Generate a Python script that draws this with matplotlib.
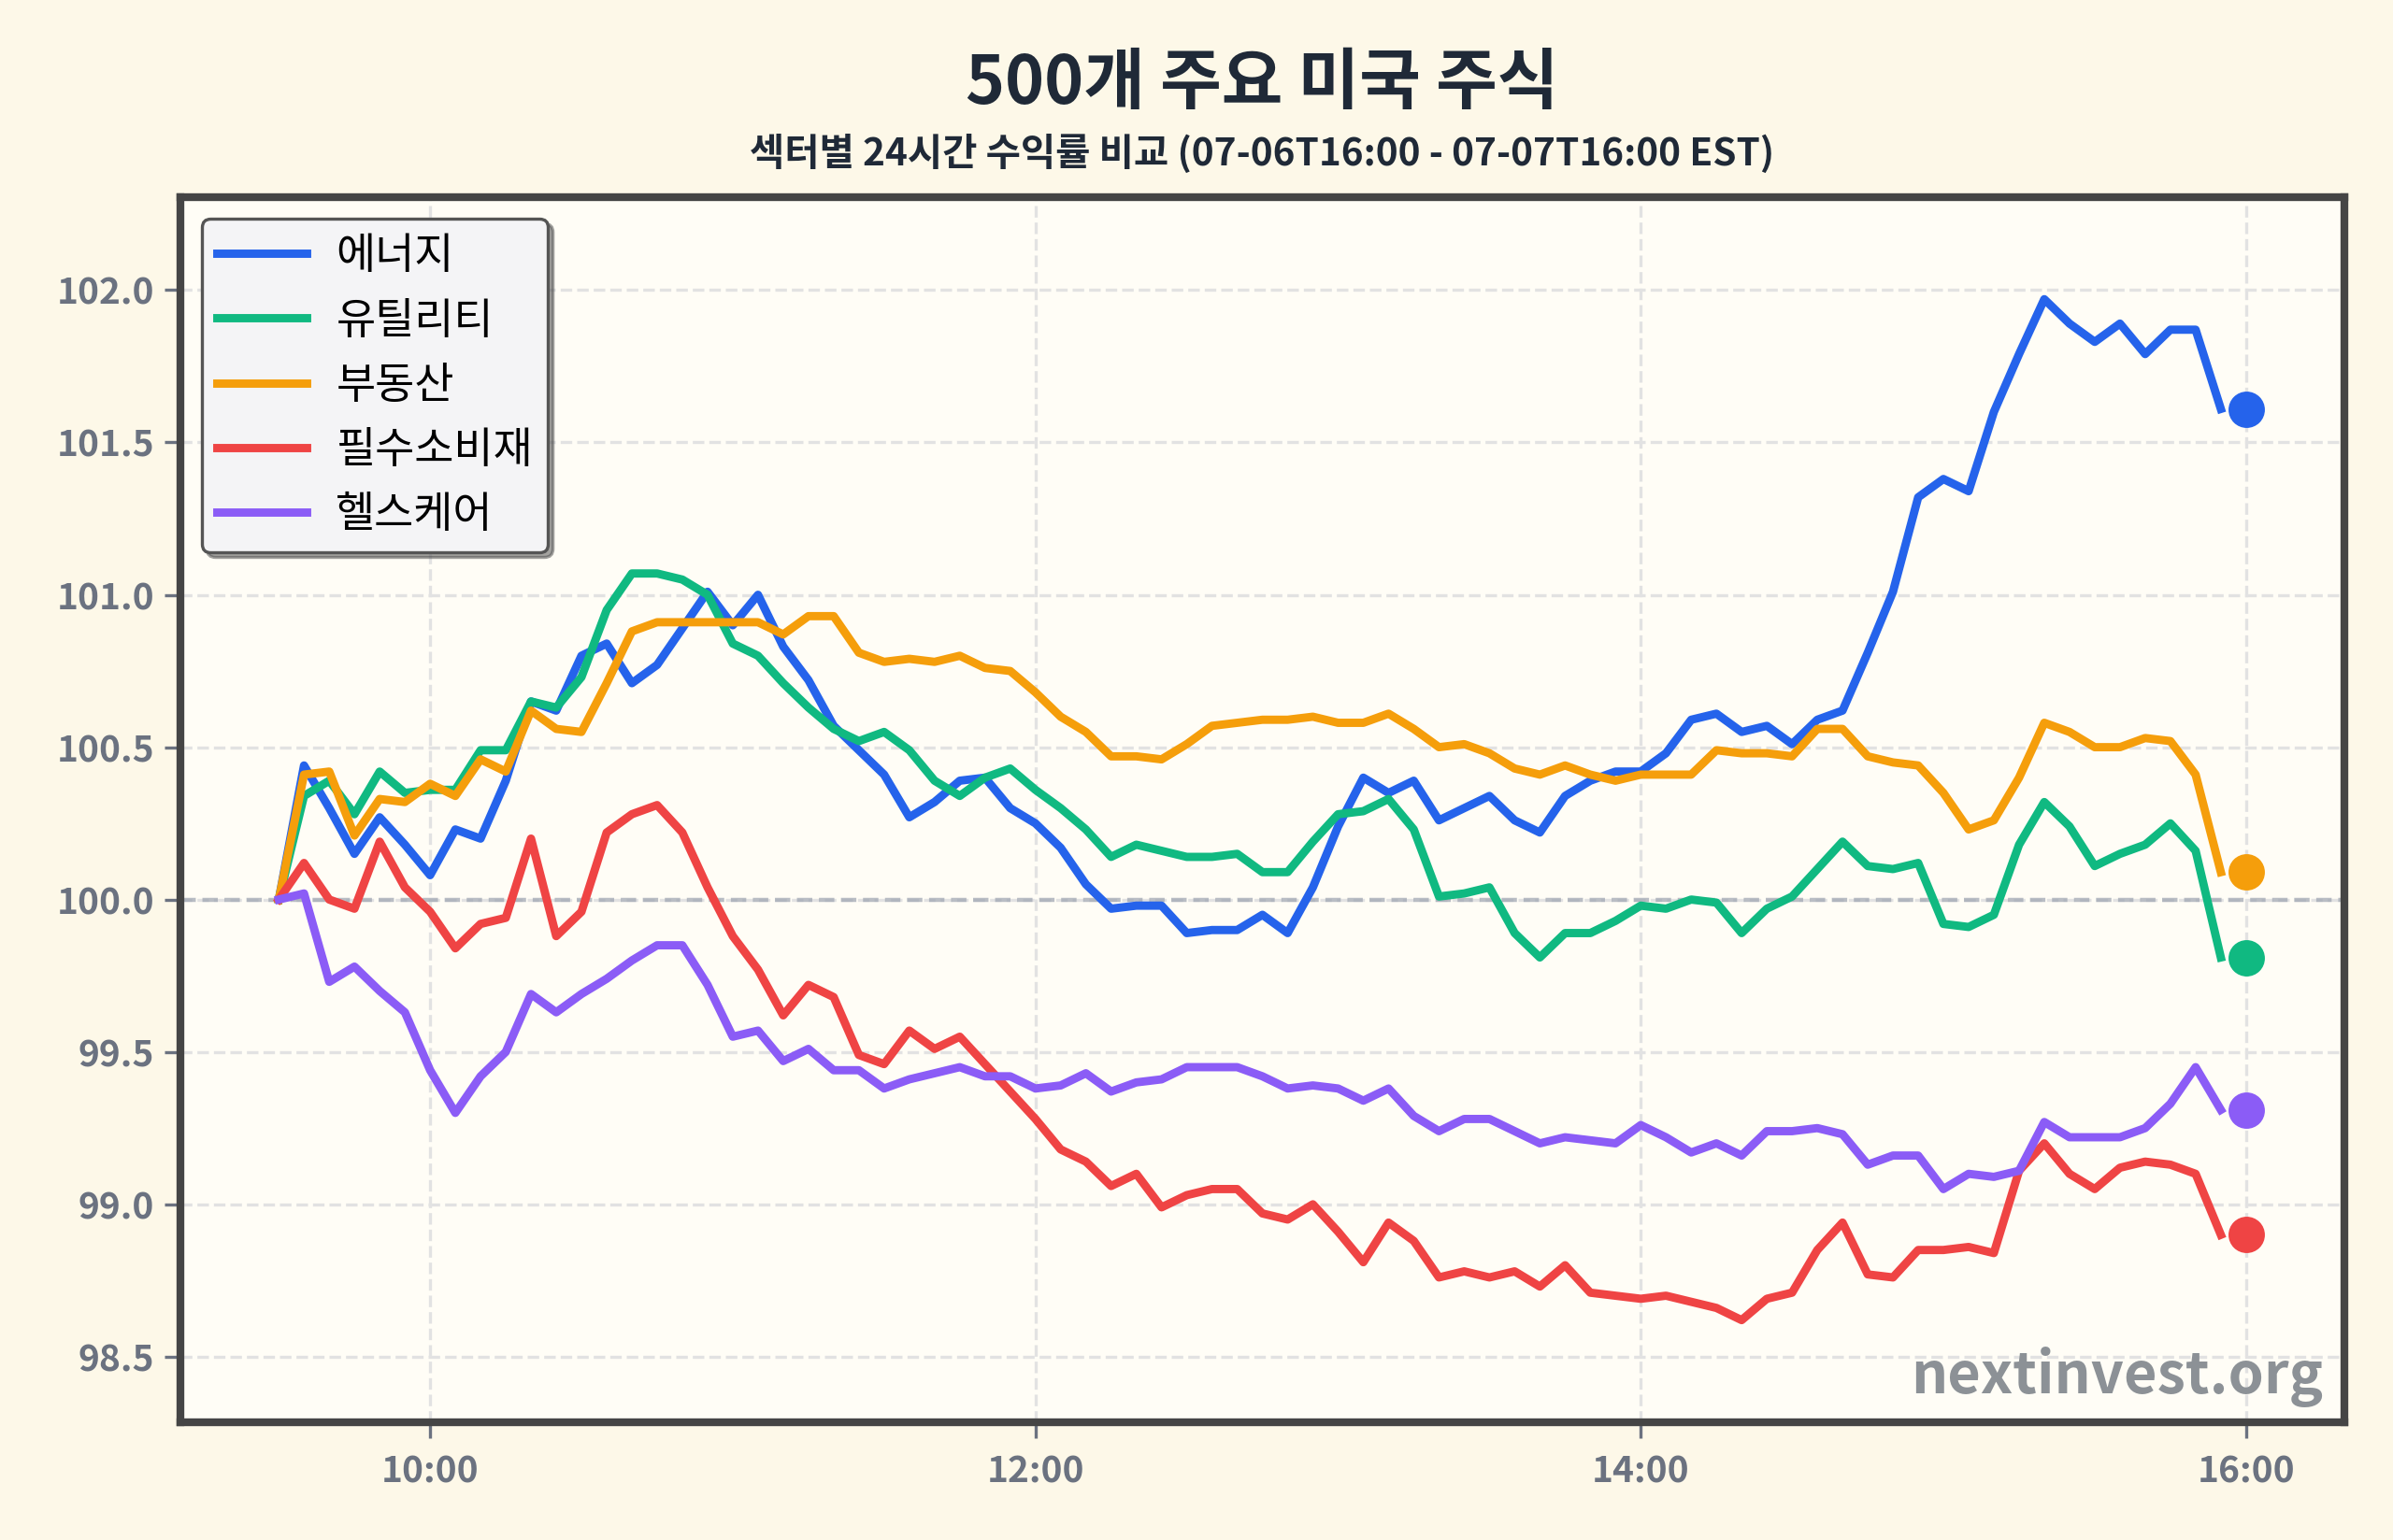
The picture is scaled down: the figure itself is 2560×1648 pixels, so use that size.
import pandas as pd
import matplotlib
matplotlib.use('Agg')
import matplotlib.pyplot as plt
import matplotlib.dates as mdates
from matplotlib.ticker import MultipleLocator, FormatStrFormatter

plt.rcParams['font.family'] = ['Noto Sans CJK KR', 'DejaVu Sans']

# 5분 간격 09:30 ~ 15:55, 마지막 점은 16:00 에 표시
times = pd.date_range('2025-07-07 09:30', periods=78, freq='5min')
close_time = pd.Timestamp('2025-07-07 16:00')

sectors = ['에너지', '유틸리티', '부동산', '필수소비재', '헬스케어']
colors = ['#2563eb', '#10b981', '#f59e0b', '#ef4444', '#8b5cf6']

energy = [100.00, 100.44, 100.30, 100.15, 100.27, 100.18, 100.08, 100.23, 100.20, 100.39,
          100.65, 100.62, 100.80, 100.84, 100.71, 100.77, 100.89, 101.01, 100.90, 101.00,
          100.83, 100.72, 100.57, 100.49, 100.41, 100.27, 100.32, 100.39, 100.40, 100.30,
          100.25, 100.17, 100.05, 99.97, 99.98, 99.98, 99.89, 99.90, 99.90, 99.95,
          99.89, 100.04, 100.24, 100.40, 100.35, 100.39, 100.26, 100.30, 100.34, 100.26,
          100.22, 100.34, 100.39, 100.42, 100.42, 100.48, 100.59, 100.61, 100.55, 100.57,
          100.51, 100.59, 100.62, 100.81, 101.01, 101.32, 101.38, 101.34, 101.60, 101.79,
          101.97, 101.89, 101.83, 101.89, 101.79, 101.87, 101.87, 101.61]

utilities = [100.00, 100.34, 100.39, 100.28, 100.42, 100.35, 100.36, 100.36, 100.49, 100.49,
             100.65, 100.63, 100.73, 100.95, 101.07, 101.07, 101.05, 101.00, 100.84, 100.80,
             100.71, 100.63, 100.56, 100.52, 100.55, 100.49, 100.39, 100.34, 100.40, 100.43,
             100.36, 100.30, 100.23, 100.14, 100.18, 100.16, 100.14, 100.14, 100.15, 100.09,
             100.09, 100.19, 100.28, 100.29, 100.33, 100.23, 100.01, 100.02, 100.04, 99.89,
             99.81, 99.89, 99.89, 99.93, 99.98, 99.97, 100.00, 99.99, 99.89, 99.97,
             100.01, 100.10, 100.19, 100.11, 100.10, 100.12, 99.92, 99.91, 99.95, 100.18,
             100.32, 100.24, 100.11, 100.15, 100.18, 100.25, 100.16, 99.81]

real_estate = [100.00, 100.41, 100.42, 100.21, 100.33, 100.32, 100.38, 100.34, 100.46, 100.42,
               100.62, 100.56, 100.55, 100.71, 100.88, 100.91, 100.91, 100.91, 100.91, 100.91,
               100.87, 100.93, 100.93, 100.81, 100.78, 100.79, 100.78, 100.80, 100.76, 100.75,
               100.68, 100.60, 100.55, 100.47, 100.47, 100.46, 100.51, 100.57, 100.58, 100.59,
               100.59, 100.60, 100.58, 100.58, 100.61, 100.56, 100.50, 100.51, 100.48, 100.43,
               100.41, 100.44, 100.41, 100.39, 100.41, 100.41, 100.41, 100.49, 100.48, 100.48,
               100.47, 100.56, 100.56, 100.47, 100.45, 100.44, 100.35, 100.23, 100.26, 100.40,
               100.58, 100.55, 100.50, 100.50, 100.53, 100.52, 100.41, 100.09]

staples = [100.00, 100.12, 100.00, 99.97, 100.19, 100.04, 99.96, 99.84, 99.92, 99.94,
           100.20, 99.88, 99.96, 100.22, 100.28, 100.31, 100.22, 100.04, 99.88, 99.77,
           99.62, 99.72, 99.68, 99.49, 99.46, 99.57, 99.51, 99.55, 99.46, 99.37,
           99.28, 99.18, 99.14, 99.06, 99.10, 98.99, 99.03, 99.05, 99.05, 98.97,
           98.95, 99.00, 98.91, 98.81, 98.94, 98.88, 98.76, 98.78, 98.76, 98.78,
           98.73, 98.80, 98.71, 98.70, 98.69, 98.70, 98.68, 98.66, 98.62, 98.69,
           98.71, 98.85, 98.94, 98.77, 98.76, 98.85, 98.85, 98.86, 98.84, 99.11,
           99.20, 99.10, 99.05, 99.12, 99.14, 99.13, 99.10, 98.90]

healthcare = [100.00, 100.02, 99.73, 99.78, 99.70, 99.63, 99.44, 99.30, 99.42, 99.50,
              99.69, 99.63, 99.69, 99.74, 99.80, 99.85, 99.85, 99.72, 99.55, 99.57,
              99.47, 99.51, 99.44, 99.44, 99.38, 99.41, 99.43, 99.45, 99.42, 99.42,
              99.38, 99.39, 99.43, 99.37, 99.40, 99.41, 99.45, 99.45, 99.45, 99.42,
              99.38, 99.39, 99.38, 99.34, 99.38, 99.29, 99.24, 99.28, 99.28, 99.24,
              99.20, 99.22, 99.21, 99.20, 99.26, 99.22, 99.17, 99.20, 99.16, 99.24,
              99.24, 99.25, 99.23, 99.13, 99.16, 99.16, 99.05, 99.10, 99.09, 99.11,
              99.27, 99.22, 99.22, 99.22, 99.25, 99.33, 99.45, 99.31]

series = [energy, utilities, real_estate, staples, healthcare]

fig, ax = plt.subplots(figsize=(12.8, 8.24))
fig.patch.set_facecolor('#fdf8e8')
ax.set_facecolor('#fffdf6')
fig.subplots_adjust(left=0.0754, right=0.9797, top=0.872, bottom=0.0765)

ax.axhline(100, color='#9ca3af', ls='--', lw=1.6, alpha=0.7, zorder=1)

for name, vals, c in zip(sectors, series, colors):
    ax.plot(times, vals, color=c, lw=3.2, label=name, zorder=3)
    # 마감 시점 마커
    ax.plot([close_time], [vals[-1]], 'o', ms=13, color=c, zorder=4)

lo = min(min(s) for s in series)
hi = max(max(s) for s in series)
pad = (hi - lo) * 0.1
ax.set_ylim(lo - pad, hi + pad)

ax.xaxis.set_major_locator(mdates.HourLocator(byhour=[10, 12, 14, 16]))
ax.xaxis.set_major_formatter(mdates.DateFormatter('%H:%M'))
ax.yaxis.set_major_locator(MultipleLocator(0.5))
ax.yaxis.set_major_formatter(FormatStrFormatter('%.1f'))

ax.grid(True, ls='--', color='#e2e2e2', lw=1.2, zorder=0)
ax.set_axisbelow(True)

for sp in ax.spines.values():
    sp.set_color('#454545')
    sp.set_linewidth(3)

ax.tick_params(axis='both', length=6, width=1.2, color='#6b7280', labelcolor='#6b7280', labelsize=14)
ax.tick_params(axis='x', pad=6)
ax.tick_params(axis='y', pad=4)
for lbl in ax.get_xticklabels() + ax.get_yticklabels():
    lbl.set_fontweight('bold')

leg = ax.legend(loc='upper left', fontsize=16.5, frameon=True, fancybox=True, shadow=True,
                facecolor='#f4f4f6', edgecolor='#555555', framealpha=1,
                handlelength=2.1, handletextpad=0.68, labelspacing=0.45, borderpad=0.35)
leg.get_frame().set_linewidth(1.2)

ax.text(0.99, 0.012, 'nextinvest.org', transform=ax.transAxes, ha='right', va='bottom',
        fontsize=22, fontweight='bold', color='#8c9196')

# 제목은 축 영역 중앙에 맞춤
cx = (0.0754 + 0.9797) / 2
fig.text(cx, 0.9455, '500개 주요 미국 주식', ha='center', va='center',
         fontsize=25.7, fontweight='bold', color='#1f2937')
fig.text(cx, 0.900, '섹터별 24시간 수익률 비교 (07-06T16:00 - 07-07T16:00 EST)', ha='center', va='center',
         fontsize=14.6, fontweight='bold', color='#1f2937')

fig.savefig('out.png', dpi=200, facecolor=fig.get_facecolor())
